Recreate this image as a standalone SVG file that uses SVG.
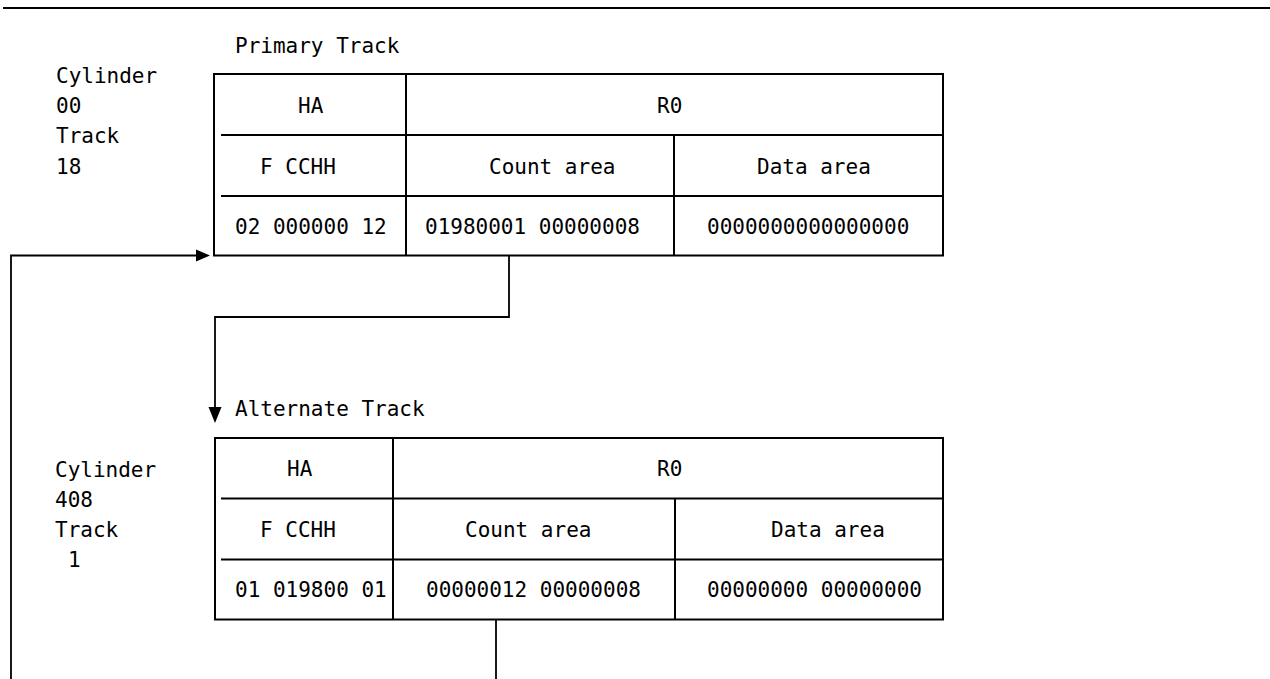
<svg xmlns="http://www.w3.org/2000/svg" width="1270" height="679" viewBox="0 0 1270 679">
<style>
text{font-family:"DejaVu Sans Mono","Liberation Mono",monospace;font-size:21px;fill:#000}
.b{fill:none;stroke:#000;stroke-width:2}
.c{fill:none;stroke:#000;stroke-width:1.8}
.h{fill:#000}
</style>
<rect width="1270" height="679" fill="#fff"/>
<line class="b" x1="3" y1="8" x2="1270" y2="8"/>
<g id="primary-label">
<text x="235" y="53">Primary Track</text>
<text x="56" y="83">Cylinder</text>
<text x="56" y="113">00</text>
<text x="56" y="143">Track</text>
<text x="56" y="174">18</text>
</g>
<g id="primary-track">
<rect class="b" x="214" y="74" width="729" height="181.5"/>
<line class="b" x1="406" y1="74" x2="406" y2="255.5"/>
<line class="b" x1="221" y1="135" x2="943" y2="135"/>
<line class="b" x1="221" y1="196" x2="943" y2="196"/>
<line class="b" x1="674" y1="135" x2="674" y2="255.5"/>
<text x="298" y="113">HA</text>
<text x="657" y="113">R0</text>
<text x="260" y="174">F CCHH</text>
<text x="489" y="174">Count area</text>
<text x="757" y="174">Data area</text>
<text x="235" y="234">02 000000 12</text>
<text x="425" y="234">01980001 00000008</text>
<text x="707" y="234">0000000000000000</text>
</g>
<g id="alternate-label">
<text x="235" y="416">Alternate Track</text>
<text x="55" y="477">Cylinder</text>
<text x="55" y="507">408</text>
<text x="55" y="537">Track</text>
<text x="68" y="567">1</text>
</g>
<g id="alternate-track">
<rect class="b" x="215" y="438" width="728" height="181.5"/>
<line class="b" x1="393" y1="438" x2="393" y2="619.5"/>
<line class="b" x1="221" y1="498.5" x2="943" y2="498.5"/>
<line class="b" x1="221" y1="559.5" x2="943" y2="559.5"/>
<line class="b" x1="675" y1="498.5" x2="675" y2="619.5"/>
<text x="287" y="476">HA</text>
<text x="657" y="476">R0</text>
<text x="260" y="537">F CCHH</text>
<text x="465" y="537">Count area</text>
<text x="771" y="537">Data area</text>
<text x="235" y="597">01 019800 01</text>
<text x="426" y="597">00000012 00000008</text>
<text x="707" y="597">00000000 00000000</text>
</g>
<g id="connectors">
<path class="c" d="M11 679 V255.5 H198"/>
<polygon class="h" points="210,255.5 196,249.5 196,261.5"/>
<path class="c" d="M509 256 V317 H215 V409"/>
<polygon class="h" points="215,423 208.5,407 221.5,407"/>
<path class="c" d="M496 620 V679"/>
</g>
</svg>
